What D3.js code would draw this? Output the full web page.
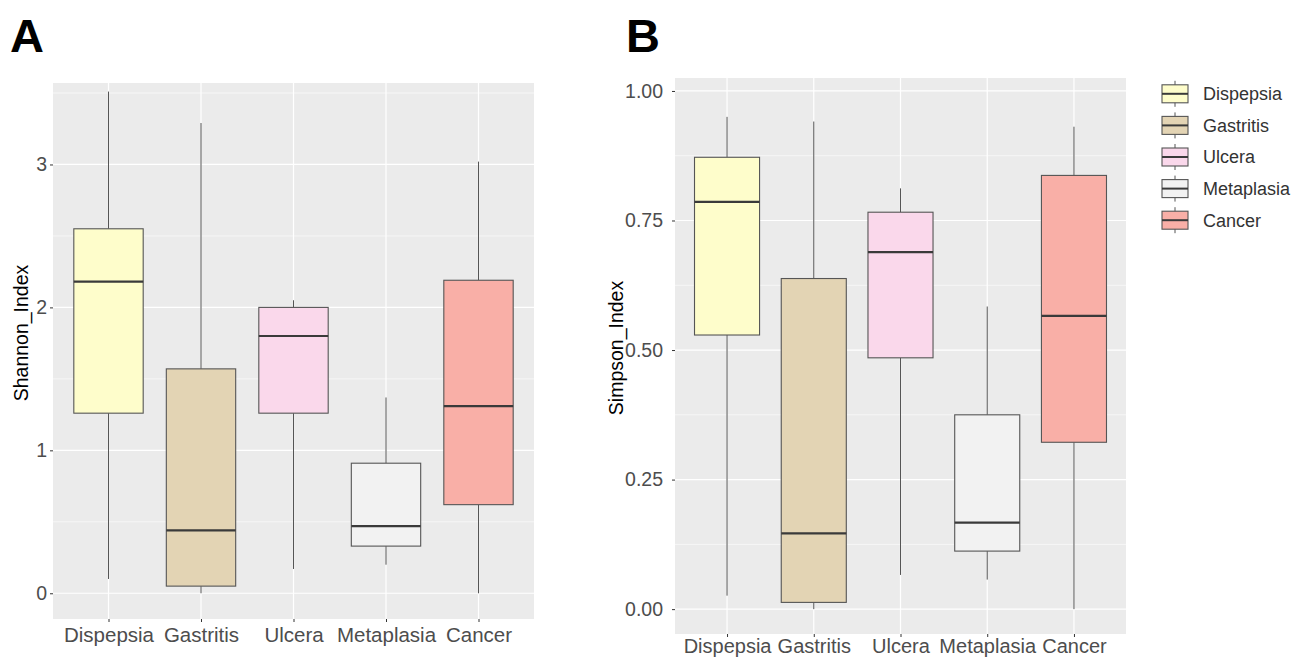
<!DOCTYPE html>
<html>
<head>
<meta charset="utf-8">
<script src="https://cdn.jsdelivr.net/npm/d3@7"></script>
<style>
  body { margin: 0; background: #fff; }
  text { font-family: "Liberation Sans", Arial, sans-serif; }
</style>
</head>
<body>
<script>
// groups
var categories = ["Dispepsia", "Gastritis", "Ulcera", "Metaplasia", "Cancer"];
var fillColors = ["#FEFDCB", "#E3D4B4", "#FAD8EB", "#F2F2F2", "#F9AFA7"];

// panel A - Shannon index (five number summaries)
var shannonMin = [0.10, 0.00, 0.17, 0.20, 0.00];
var shannonQ1  = [1.26, 0.05, 1.26, 0.33, 0.62];
var shannonMed = [2.18, 0.44, 1.80, 0.47, 1.31];
var shannonQ3  = [2.55, 1.57, 2.00, 0.91, 2.19];
var shannonMax = [3.51, 3.29, 2.05, 1.37, 3.02];
var shannonTicks = [0, 1, 2, 3];

// panel B - Simpson index
var simpsonMin = [0.026, 0.000, 0.066, 0.057, 0.000];
var simpsonQ1  = [0.529, 0.013, 0.485, 0.112, 0.322];
var simpsonMed = [0.786, 0.146, 0.689, 0.167, 0.566];
var simpsonQ3  = [0.872, 0.638, 0.766, 0.375, 0.837];
var simpsonMax = [0.950, 0.941, 0.812, 0.584, 0.931];
var simpsonTicks = [0, 0.25, 0.5, 0.75, 1];

var svg = d3.select("body").append("svg")
  .attr("width", 1309)
  .attr("height", 659);

function boxData(mn, q1, med, q3, mx) {
  return categories.map(function(c, i) {
    return {cat: c, min: mn[i], q1: q1[i], med: med[i], q3: q3[i], max: mx[i], fill: fillColors[i]};
  });
}

function drawPanel(opt) {
  var x = d3.scalePoint().domain(categories).range([opt.left, opt.right]).padding(0.6);
  var y = d3.scaleLinear().domain(opt.yDomain).range([opt.bottom, opt.top]);
  var boxW = x.step() * 0.75;

  var g = svg.append("g");

  // background
  g.append("rect")
    .attr("x", opt.left).attr("y", opt.top)
    .attr("width", opt.right - opt.left).attr("height", opt.bottom - opt.top)
    .attr("fill", "#EBEBEB");

  // minor grid
  var minor = opt.ticks.slice(0, -1).map(function(t, i) { return (t + opt.ticks[i + 1]) / 2; });
  minor.push(opt.ticks[opt.ticks.length - 1] + (opt.ticks[1] - opt.ticks[0]) / 2);
  minor = minor.filter(function(v) { return v < opt.yDomain[1]; });
  g.selectAll(".minor").data(minor).enter().append("line")
    .attr("x1", opt.left).attr("x2", opt.right)
    .attr("y1", function(d) { return y(d); }).attr("y2", function(d) { return y(d); })
    .attr("stroke", "#fff").attr("stroke-width", 0.6);

  // major grid
  g.selectAll(".major").data(opt.ticks).enter().append("line")
    .attr("x1", opt.left).attr("x2", opt.right)
    .attr("y1", function(d) { return y(d); }).attr("y2", function(d) { return y(d); })
    .attr("stroke", "#fff").attr("stroke-width", 1.2);
  g.selectAll(".vgrid").data(categories).enter().append("line")
    .attr("x1", function(d) { return x(d); }).attr("x2", function(d) { return x(d); })
    .attr("y1", opt.top).attr("y2", opt.bottom)
    .attr("stroke", "#fff").attr("stroke-width", 1.2);

  // boxes
  var data = boxData(opt.mn, opt.q1, opt.med, opt.q3, opt.mx);
  var b = g.selectAll(".box").data(data).enter().append("g");
  b.append("line")
    .attr("x1", function(d) { return x(d.cat); }).attr("x2", function(d) { return x(d.cat); })
    .attr("y1", function(d) { return y(d.max); }).attr("y2", function(d) { return y(d.q3); })
    .attr("stroke", "#555").attr("stroke-width", 1);
  b.append("line")
    .attr("x1", function(d) { return x(d.cat); }).attr("x2", function(d) { return x(d.cat); })
    .attr("y1", function(d) { return y(d.q1); }).attr("y2", function(d) { return y(d.min); })
    .attr("stroke", "#555").attr("stroke-width", 1);
  b.append("rect")
    .attr("x", function(d) { return x(d.cat) - boxW / 2; })
    .attr("width", boxW)
    .attr("y", function(d) { return y(d.q3); })
    .attr("height", function(d) { return y(d.q1) - y(d.q3); })
    .attr("fill", function(d) { return d.fill; })
    .attr("stroke", "#555").attr("stroke-width", 1.1);
  b.append("line")
    .attr("x1", function(d) { return x(d.cat) - boxW / 2; })
    .attr("x2", function(d) { return x(d.cat) + boxW / 2; })
    .attr("y1", function(d) { return y(d.med); }).attr("y2", function(d) { return y(d.med); })
    .attr("stroke", "#3a3a3a").attr("stroke-width", 2.2);

  // axes
  var yAxis = d3.axisLeft(y).tickValues(opt.ticks).tickFormat(opt.fmt).tickSize(3).tickPadding(opt.yPad);
  var ya = g.append("g").attr("transform", "translate(" + opt.left + ",0)").call(yAxis);
  var xAxis = d3.axisBottom(x).tickSize(3).tickPadding(opt.xPad);
  var xa = g.append("g").attr("transform", "translate(0," + opt.bottom + ")").call(xAxis);
  [ya, xa].forEach(function(a) {
    a.select(".domain").remove();
    a.selectAll(".tick line").attr("stroke", "#333");
    a.selectAll(".tick text").attr("fill", "#4D4D4D");
  });
  ya.selectAll(".tick text").style("font-size", "19.5px");
  xa.selectAll(".tick text").style("font-size", opt.xFont);

  // axis title
  g.append("text")
    .attr("transform", "translate(" + opt.titleX + "," + opt.titleY + ") rotate(-90)")
    .attr("text-anchor", "middle")
    .style("font-size", "19.5px")
    .attr("fill", "#000")
    .text(opt.title);

  // panel letter
  g.append("text")
    .attr("x", opt.letterX).attr("y", 52)
    .style("font-size", "47px").style("font-weight", "bold")
    .attr("fill", "#000")
    .text(opt.letter);
}

drawPanel({
  left: 53, right: 534, top: 83, bottom: 619,
  yDomain: [-0.18, 3.57], ticks: shannonTicks, fmt: d3.format("d"), yPad: 3,
  xPad: 5, xFont: "20.5px",
  mn: shannonMin, q1: shannonQ1, med: shannonMed, q3: shannonQ3, mx: shannonMax,
  title: "Shannon_Index", titleX: 28, titleY: 333,
  letter: "A", letterX: 10
});

drawPanel({
  left: 675, right: 1126, top: 78, bottom: 634,
  yDomain: [-0.048, 1.025], ticks: simpsonTicks, fmt: d3.format(".2f"), yPad: 9,
  xPad: 2, xFont: "20px",
  mn: simpsonMin, q1: simpsonQ1, med: simpsonMed, q3: simpsonQ3, mx: simpsonMax,
  title: "Simpson_Index", titleX: 623, titleY: 348,
  letter: "B", letterX: 626
});

// legend
var ly = d3.scaleBand().domain(categories).range([78, 236]);
var leg = svg.append("g").selectAll("g").data(categories).enter().append("g")
  .attr("transform", function(d) { return "translate(0," + (ly(d) + ly.bandwidth() / 2) + ")"; });
leg.append("line")
  .attr("x1", 1175).attr("x2", 1175).attr("y1", -13).attr("y2", 13)
  .attr("stroke", "#555").attr("stroke-width", 1);
leg.append("rect")
  .attr("x", 1162).attr("y", -9).attr("width", 26).attr("height", 18)
  .attr("fill", function(d, i) { return fillColors[i]; })
  .attr("stroke", "#555").attr("stroke-width", 1.1);
leg.append("line")
  .attr("x1", 1162).attr("x2", 1188).attr("y1", 0).attr("y2", 0)
  .attr("stroke", "#3a3a3a").attr("stroke-width", 2);
leg.append("text")
  .attr("x", 1203).attr("y", 0).attr("dy", "0.35em")
  .style("font-size", "18px").attr("fill", "#333")
  .text(function(d) { return d; });
</script>
</body>
</html>
